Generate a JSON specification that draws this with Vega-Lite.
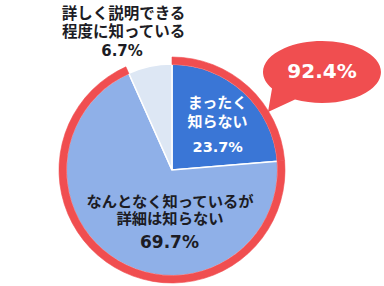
{
  "$schema": "https://vega.github.io/schema/vega-lite/v6.json",
  "width": 344,
  "height": 232,
  "autosize": {"type": "none"},
  "padding": {"left": 0, "top": 54, "right": 40, "bottom": 0},
  "background": "white",
  "config": {"view": {"stroke": null}},
  "data": {
    "values": [
      {"category": "まったく知らない", "label": "まったく\n知らない", "pct": "23.7%", "value": 23.7, "order": 1},
      {"category": "なんとなく知っているが詳細は知らない", "label": "なんとなく知っているが\n詳細は知らない", "pct": "69.7%", "value": 69.7, "order": 2},
      {"category": "詳しく説明できる程度に知っている", "label": "詳しく説明できる\n程度に知っている", "pct": "6.7%", "value": 6.7, "order": 3}
    ]
  },
  "layer": [
    {
      "mark": {"type": "arc", "outerRadius": 106, "stroke": "white", "strokeWidth": 1.5},
      "encoding": {
        "theta": {"field": "value", "type": "quantitative", "stack": true},
        "order": {"field": "order", "type": "quantitative"},
        "color": {
          "field": "category",
          "type": "nominal",
          "scale": {
            "domain": ["まったく知らない", "なんとなく知っているが詳細は知らない", "詳しく説明できる程度に知っている"],
            "range": ["#3a76d6", "#8fb0e8", "#dde7f4"]
          },
          "legend": null
        }
      }
    },
    {
      "mark": {"type": "arc", "innerRadius": 105.5, "outerRadius": 113, "fill": "#f04e50", "stroke": "#f04e50", "strokeWidth": 0.6},
      "encoding": {
        "theta": {"field": "value", "type": "quantitative", "stack": true},
        "order": {"field": "order", "type": "quantitative"},
        "opacity": {"condition": {"test": "datum.order === 3", "value": 0}, "value": 1}
      }
    },
    {
      "transform": [{"filter": "datum.order === 1"}],
      "mark": {"type": "text", "radius": 80.74, "font": "Noto Sans CJK JP", "fontWeight": "bold", "fontSize": 15, "lineBreak": "\n", "lineHeight": 18.4, "color": "white", "align": "center", "baseline": "middle"},
      "encoding": {
        "theta": {"datum": 9.54, "type": "quantitative"},
        "text": {"field": "label"}
      }
    },
    {
      "transform": [{"filter": "datum.order === 1"}],
      "mark": {"type": "text", "radius": 50.6, "font": "DejaVu Sans", "fontWeight": "bold", "fontSize": 14.5, "color": "white", "align": "center", "baseline": "middle"},
      "encoding": {
        "theta": {"datum": 17.96, "type": "quantitative"},
        "text": {"field": "pct"}
      }
    },
    {
      "transform": [{"filter": "datum.order === 2"}],
      "mark": {"type": "text", "radius": 31.76, "font": "Noto Sans CJK JP", "fontWeight": "bold", "fontSize": 15.3, "lineBreak": "\n", "lineHeight": 17.6, "color": "#1c1c24", "align": "center", "baseline": "middle"},
      "encoding": {
        "theta": {"datum": 51.05, "type": "quantitative"},
        "text": {"field": "label"}
      }
    },
    {
      "transform": [{"filter": "datum.order === 2"}],
      "mark": {"type": "text", "radius": 73.34, "font": "DejaVu Sans", "fontWeight": "bold", "fontSize": 17, "color": "#1c1c24", "align": "center", "baseline": "middle"},
      "encoding": {
        "theta": {"datum": 50.6, "type": "quantitative"},
        "text": {"field": "pct"}
      }
    },
    {
      "transform": [{"filter": "datum.order === 3"}],
      "mark": {"type": "text", "radius": 163.37, "font": "Noto Sans CJK JP", "fontWeight": "bold", "fontSize": 15.5, "lineBreak": "\n", "lineHeight": 18.3, "color": "#1c1c24", "align": "center", "baseline": "middle"},
      "encoding": {
        "theta": {"datum": 95.3, "type": "quantitative"},
        "text": {"field": "label"}
      }
    },
    {
      "transform": [{"filter": "datum.order === 3"}],
      "mark": {"type": "text", "radius": 129.4, "font": "DejaVu Sans", "fontWeight": "bold", "fontSize": 15, "color": "#1c1c24", "align": "center", "baseline": "middle"},
      "encoding": {
        "theta": {"datum": 93.78, "type": "quantitative"},
        "text": {"field": "pct"}
      }
    },
    {
      "data": {"values": [{"label": "92.4%"}]},
      "layer": [
        {
          "mark": {"type": "point", "shape": "M -0.833 0.275 L -0.9 0.667 L -0.45 0.46 A 0.983 0.517 0 1 0 -0.833 0.275 Z", "size": 14400, "filled": true, "fill": "#f04e50", "opacity": 1, "strokeWidth": 0}
        },
        {
          "mark": {"type": "text", "font": "DejaVu Sans", "fontWeight": "bold", "fontSize": 20, "color": "white", "align": "center", "baseline": "middle"},
          "encoding": {"text": {"field": "label"}}
        }
      ],
      "encoding": {
        "x": {"datum": 150, "type": "quantitative", "scale": {"domain": [-172, 172], "nice": false, "zero": false}, "axis": null},
        "y": {"datum": 98, "type": "quantitative", "scale": {"domain": [-116, 116], "nice": false, "zero": false}, "axis": null}
      }
    }
  ]
}
